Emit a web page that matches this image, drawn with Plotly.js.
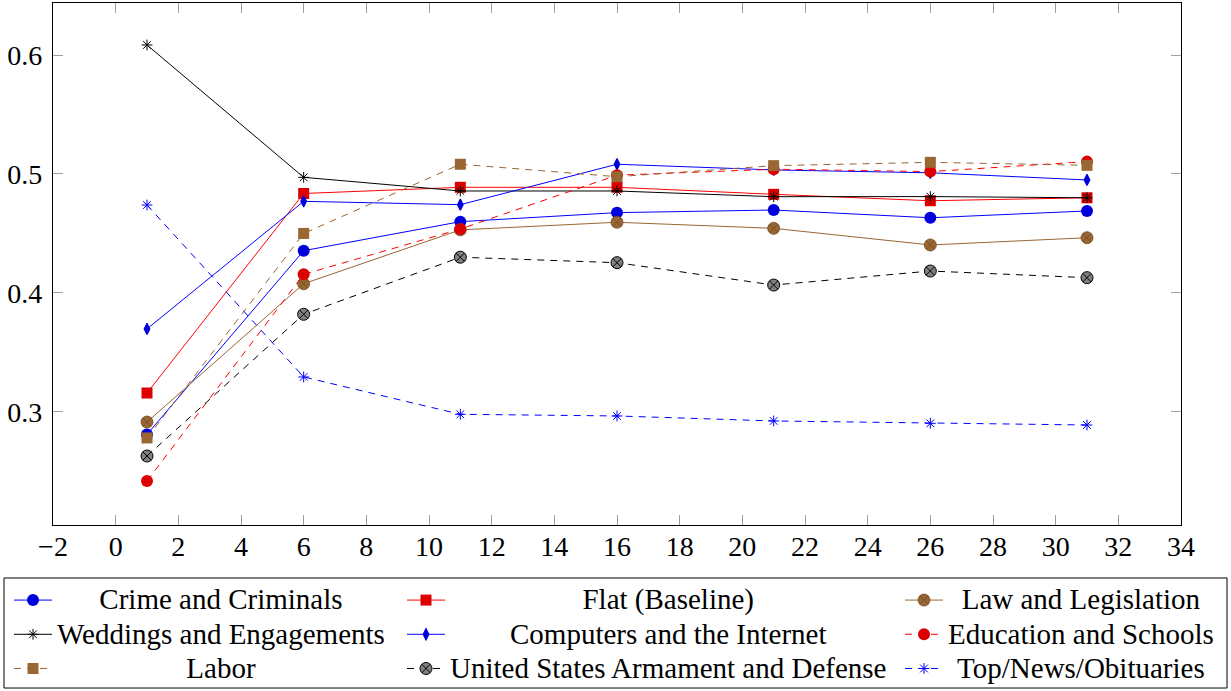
<!DOCTYPE html>
<html>
<head>
<meta charset="utf-8">
<script src="https://cdn.plot.ly/plotly-3.0.1.min.js"></script>
<style>
  html, body { margin: 0; padding: 0; background: #fff; }
  #chart { width: 1231px; height: 691px; }
</style>
</head>
<body>
<div id="chart"></div>
<script>
const xSteps = [1, 6, 11, 16, 21, 26, 31];

const crime     = [0.281, 0.4355, 0.4599, 0.4675, 0.4697, 0.4632, 0.4689];
const flat      = [0.3158, 0.4836, 0.4888, 0.4888, 0.4829, 0.4775, 0.4800];
const law       = [0.2914, 0.4077, 0.4530, 0.4594, 0.4543, 0.4403, 0.4464];
const weddings  = [0.6085, 0.4972, 0.4857, 0.4857, 0.4809, 0.4810, 0.4800];
const computers = [0.3697, 0.4770, 0.4742, 0.5082, 0.5034, 0.5010, 0.4950];
const education = [0.2418, 0.4156, 0.4537, 0.4990, 0.5040, 0.5020, 0.5104];
const labor     = [0.2780, 0.4500, 0.5082, 0.4977, 0.5070, 0.5098, 0.5073];
const defense   = [0.2628, 0.3820, 0.4300, 0.4254, 0.4066, 0.4184, 0.4128];
const topNews   = [0.4739, 0.3293, 0.2979, 0.2965, 0.2923, 0.2903, 0.2889];

const seriesNames = [
  'Crime and Criminals', 'Flat (Baseline)', 'Law and Legislation',
  'Weddings and Engagements', 'Computers and the Internet', 'Education and Schools',
  'Labor', 'United States Armament and Defense', 'Top/News/Obituaries'
];

const BLUE = '#0000ff', RED = '#ff0000', BROWN = '#996633', BLACK = '#000000';
const DASH = '7px,6px';
const legendIds = ['legend', 'legend2', 'legend3'];

function tr(i, y, lineColor, dash, marker) {
  return {
    type: 'scatter', mode: 'lines+markers', x: xSteps, y: y, name: seriesNames[i],
    line: { color: lineColor, width: 1, dash: dash },
    marker: marker, legend: legendIds[i % 3], cliponaxis: false
  };
}

const traces = [
  tr(0, crime, BLUE, 'solid',
     { symbol: 'circle', size: 12, color: '#0000dd', line: { width: 0 } }),
  tr(1, flat, RED, 'solid',
     { symbol: 'square', size: 11, color: '#dd0000', line: { width: 0 } }),
  tr(2, law, BROWN, 'solid',
     { symbol: 'circle-x', size: 12, color: '#9a6633', line: { width: 0.8, color: '#6e4a22' } }),
  tr(3, weddings, BLACK, 'solid',
     { symbol: 'asterisk-open', size: 9, color: BLACK, line: { width: 1, color: BLACK } }),
  tr(4, computers, BLUE, 'solid',
     { symbol: 'diamond-tall', size: 8, color: '#0000dd', line: { width: 1.2, color: '#0000dd' } }),
  tr(5, education, RED, DASH,
     { symbol: 'circle', size: 12, color: '#dd0000', line: { width: 0 } }),
  tr(6, labor, BROWN, DASH,
     { symbol: 'square', size: 11, color: '#9a6633', line: { width: 0 } }),
  tr(7, defense, BLACK, DASH,
     { symbol: 'circle-x', size: 12, color: '#808080', line: { width: 1, color: BLACK } }),
  tr(8, topNews, BLUE, DASH,
     { symbol: 'asterisk-open', size: 9, color: BLUE, line: { width: 1, color: BLUE } })
];

const FONT = 'Liberation Serif';
const legendBase = {
  orientation: 'v', xanchor: 'left', yanchor: 'top', y: -0.1015,
  bgcolor: 'rgba(0,0,0,0)', borderwidth: 0, itemwidth: 38,
  font: { family: FONT, size: 24, color: '#000' },
  itemclick: false, itemdoubleclick: false, tracegroupgap: 0
};

const layout = {
  width: 1231, height: 691,
  margin: { l: 53, r: 50, t: 3, b: 166, pad: 0, autoexpand: false },
  paper_bgcolor: '#fff', plot_bgcolor: '#fff',
  font: { family: FONT, size: 26, color: '#000' },
  showlegend: true,
  xaxis: {
    range: [-2, 34], dtick: 2, tick0: 0,
    showgrid: false, zeroline: false,
    showline: true, linecolor: '#000', linewidth: 1.2, mirror: 'allticks',
    ticks: 'inside', ticklen: 10, tickcolor: '#a0a0a0', tickwidth: 1,
    ticklabelstandoff: -4,
    tickfont: { family: FONT, size: 28, color: '#000' }
  },
  yaxis: {
    range: [0.2048, 0.6438], dtick: 0.1, tick0: 0,
    showgrid: false, zeroline: false,
    showline: true, linecolor: '#000', linewidth: 1.2, mirror: 'allticks',
    ticks: 'inside', ticklen: 10, tickcolor: '#a0a0a0', tickwidth: 1,
    ticklabelstandoff: 4,
    tickfont: { family: FONT, size: 28, color: '#000' }
  },
  legend: Object.assign({}, legendBase, { x: -0.039 }),
  legend2: Object.assign({}, legendBase, { x: 0.3094 }),
  legend3: Object.assign({}, legendBase, { x: 0.7509 }),
  shapes: [{
    type: 'rect', xref: 'paper', yref: 'paper',
    x0: -0.04344, x1: 1.0408, y0: -0.3123, y1: -0.1015,
    line: { color: '#000', width: 1 }, fillcolor: 'rgba(0,0,0,0)'
  }]
};

function styleLegendText() {
  const texts = Array.from(document.querySelectorAll('#chart text')).filter(function (t) {
    return seriesNames.indexOf(t.textContent) >= 0;
  });
  const cols = [[], [], []];
  texts.forEach(function (t) {
    t.style.setProperty('font-size', '29px', 'important');
    let p = t.parentNode;
    while (p && p.tagName && p.tagName.toLowerCase() !== 'svg') {
      if (p.hasAttribute && p.hasAttribute('clip-path')) p.removeAttribute('clip-path');
      p = p.parentNode;
    }
    cols[seriesNames.indexOf(t.textContent) % 3].push(t);
  });
  cols.forEach(function (col) {
    if (!col.length) return;
    const widths = col.map(function (t) { return t.getComputedTextLength(); });
    const maxW = Math.max.apply(null, widths);
    col.forEach(function (t, i) {
      if (!t.hasAttribute('data-x0')) t.setAttribute('data-x0', t.getAttribute('x') || '40');
      const x0 = parseFloat(t.getAttribute('data-x0'));
      t.setAttribute('x', x0 + (maxW - widths[i]) / 2);
    });
  });
}

Plotly.newPlot('chart', traces, layout, { staticPlot: true, displayModeBar: false }).then(function () {
  styleLegendText();
  setTimeout(styleLegendText, 50);
  setTimeout(styleLegendText, 300);
});
</script>
</body>
</html>
